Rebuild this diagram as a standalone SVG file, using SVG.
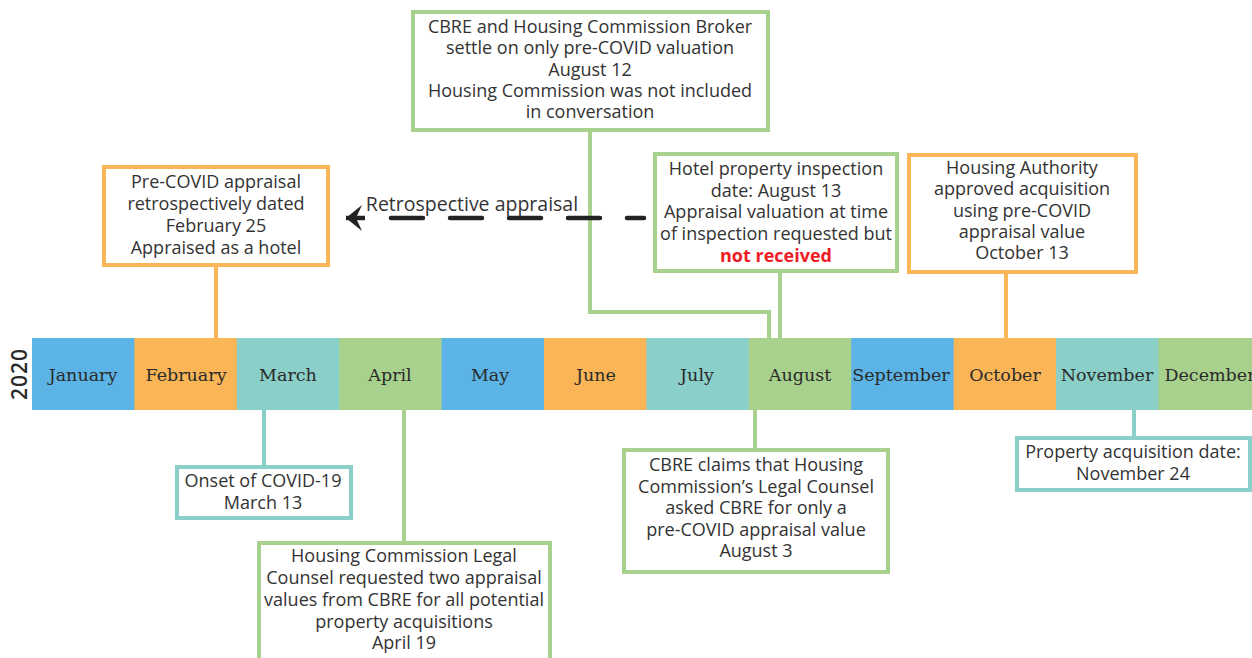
<svg xmlns="http://www.w3.org/2000/svg" width="1252" height="658" viewBox="0 0 1252 658">
<style>
.box{fill:#fff;stroke-width:4}
.o{stroke:#F9B556}.g{stroke:#A8D18D}.t{stroke:#8AD0C9}.b{stroke:#5BB4E5}
.fo{fill:#F9B556}.fg{fill:#A8D18D}.ft{fill:#8AD0C9}.fb{fill:#5BB4E5}
.conn{fill:none;stroke-width:4}
.txt{font-family:"Open Sans","DejaVu Sans",sans-serif;font-size:18px;fill:#333;text-anchor:middle}
.mon{font-family:"DejaVu Serif","Liberation Serif",serif;font-size:17.5px;fill:#2a2a2a;text-anchor:middle}
.red{fill:#EE1C25;font-weight:bold}
</style>
<defs>
<marker id="ah" markerWidth="20" markerHeight="30" refX="18" refY="14" orient="auto" markerUnits="userSpaceOnUse">
<path d="M18,14 L2,1 L8,14 L2,27 Z" fill="#222"/>
</marker>
</defs>
<rect width="1252" height="658" fill="#fff"/>
<g id="timeline">
<rect x="32" y="338" width="103" height="72" class="fb"/>
<rect x="134.4" y="338" width="103" height="72" class="fo"/>
<rect x="236.8" y="338" width="103" height="72" class="ft"/>
<rect x="339.2" y="338" width="103" height="72" class="fg"/>
<rect x="441.6" y="338" width="103" height="72" class="fb"/>
<rect x="544" y="338" width="103" height="72" class="fo"/>
<rect x="646.4" y="338" width="103" height="72" class="ft"/>
<rect x="748.8" y="338" width="103" height="72" class="fg"/>
<rect x="851.2" y="338" width="103" height="72" class="fb"/>
<rect x="953.6" y="338" width="103" height="72" class="fo"/>
<rect x="1056" y="338" width="103" height="72" class="ft"/>
<rect x="1158.4" y="338" width="103" height="72" class="fg"/>
<text class="mon" x="83" y="381">January</text>
<text class="mon" x="186" y="381">February</text>
<text class="mon" x="288" y="381">March</text>
<text class="mon" x="390" y="381">April</text>
<text class="mon" x="490" y="381">May</text>
<text class="mon" x="596" y="381">June</text>
<text class="mon" x="697" y="381">July</text>
<text class="mon" x="800" y="381">August</text>
<text class="mon" x="901" y="381">September</text>
<text class="mon" x="1005" y="381">October</text>
<text class="mon" x="1107" y="381">November</text>
<text class="mon" x="1210" y="381">December</text>
<text x="0" y="0" transform="translate(27,374) rotate(-90)" font-family="Open Sans, DejaVu Sans, sans-serif" font-size="21" font-weight="600" fill="#2a2a2a" text-anchor="middle" letter-spacing="1">2020</text>
</g>
<g id="connectors">
<path class="conn o" d="M216,265 V338"/>
<path class="conn g" d="M590,130 V312 H769 V338"/>
<path class="conn g" d="M780,271 V338"/>
<path class="conn o" d="M1006,273 V338"/>
<path class="conn t" d="M264,410 V467"/>
<path class="conn g" d="M404,410 V543"/>
<path class="conn g" d="M755,410 V450"/>
<path class="conn t" d="M1134,410 V438"/>
<path d="M644,218 L365,218" fill="none" stroke="#222" stroke-width="4.5" stroke-linecap="round" stroke-dasharray="32 27" stroke-dashoffset="15"/>
<path d="M365,218 L346,218" fill="none" stroke="#222" stroke-width="4.5" marker-end="url(#ah)"/>
<text class="txt" x="472" y="211" style="font-size:19.5px">Retrospective appraisal</text>
</g>
<g id="node-feb">
<rect class="box o" x="104" y="167" width="224" height="98"/>
<text class="txt" x="216" y="188">Pre-COVID appraisal</text>
<text class="txt" x="216" y="210">retrospectively dated</text>
<text class="txt" x="216" y="232">February 25</text>
<text class="txt" x="216" y="254">Appraised as a hotel</text>
</g>
<g id="node-aug12">
<rect class="box g" x="413" y="12" width="355" height="118"/>
<text class="txt" x="590" y="33">CBRE and Housing Commission Broker</text>
<text class="txt" x="590" y="54">settle on only pre-COVID valuation</text>
<text class="txt" x="590" y="76">August 12</text>
<text class="txt" x="590" y="97">Housing Commission was not included</text>
<text class="txt" x="590" y="118">in conversation</text>
</g>
<g id="node-aug13">
<rect class="box g" x="655" y="154" width="242" height="117"/>
<text class="txt" x="776" y="175">Hotel property inspection</text>
<text class="txt" x="776" y="197">date: August 13</text>
<text class="txt" x="776" y="218">Appraisal valuation at time</text>
<text class="txt" x="776" y="240">of inspection requested but</text>
<text class="txt red" x="776" y="262">not received</text>
</g>
<g id="node-oct13">
<rect class="box o" x="909" y="155" width="227" height="117"/>
<text class="txt" x="1022" y="174">Housing Authority</text>
<text class="txt" x="1022" y="195">approved acquisition</text>
<text class="txt" x="1022" y="217">using pre-COVID</text>
<text class="txt" x="1022" y="238">appraisal value</text>
<text class="txt" x="1022" y="259">October 13</text>
</g>
<g id="node-mar13">
<rect class="box t" x="177" y="467" width="174" height="51"/>
<text class="txt" x="263" y="487">Onset of COVID-19</text>
<text class="txt" x="263" y="509">March 13</text>
</g>
<g id="node-apr19">
<rect class="box g" x="259" y="543" width="291" height="130"/>
<text class="txt" x="404" y="562">Housing Commission Legal</text>
<text class="txt" x="404" y="584">Counsel requested two appraisal</text>
<text class="txt" x="404" y="606">values from CBRE for all potential</text>
<text class="txt" x="404" y="628">property acquisitions</text>
<text class="txt" x="404" y="649">April 19</text>
</g>
<g id="node-aug3">
<rect class="box g" x="624" y="450" width="264" height="122"/>
<text class="txt" x="756" y="471">CBRE claims that Housing</text>
<text class="txt" x="756" y="493">Commission’s Legal Counsel</text>
<text class="txt" x="756" y="514">asked CBRE for only a</text>
<text class="txt" x="756" y="536">pre-COVID appraisal value</text>
<text class="txt" x="756" y="557">August 3</text>
</g>
<g id="node-nov24">
<rect class="box t" x="1017" y="438" width="233" height="52"/>
<text class="txt" x="1133" y="458">Property acquisition date:</text>
<text class="txt" x="1133" y="480">November 24</text>
</g>
</svg>
